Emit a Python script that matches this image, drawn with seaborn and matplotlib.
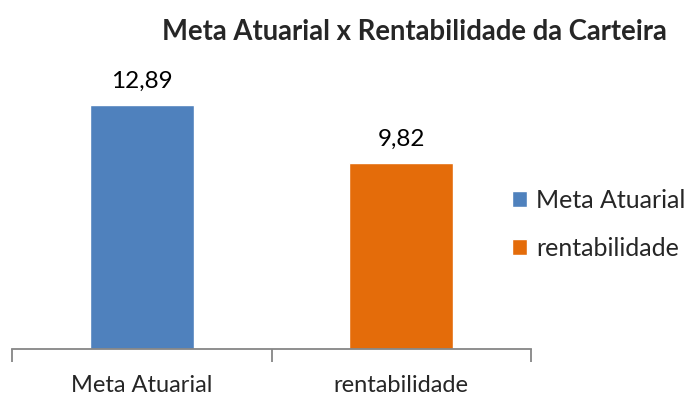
import matplotlib
matplotlib.use("Agg")
import matplotlib.pyplot as plt
import seaborn as sns
import pandas as pd

# =========================
# DATA
# =========================

categories = ["Meta Atuarial", "rentabilidade"]
values = [12.89, 9.82]
value_labels = ["12,89", "9,82"]
colors = ["#4F81BD", "#E46C0A"]

df = pd.DataFrame({"categoria": categories, "valor": values})

# =========================
# PLOT
# =========================

sns.set_style("white")
plt.rcParams["font.family"] = ["Lato", "DejaVu Sans"]

fig = plt.figure(figsize=(6.85, 4.01), dpi=100)
ax = fig.add_axes([12 / 685, 52 / 401, 519 / 685, 265 / 401])

sns.barplot(data=df, x="categoria", y="valor", hue="categoria",
            palette=colors, width=0.4, saturation=1, legend=True, ax=ax)

ax.set_xlim(-0.5, 1.5)
ax.set_ylim(0, 14)

# value labels
for i, (v, lab) in enumerate(zip(values, value_labels)):
    ax.text(i, v + 0.7, lab, ha="center", va="bottom", fontsize=17.5, color="#000000")

# axes styling
for s in ["top", "right", "left"]:
    ax.spines[s].set_visible(False)
ax.spines["bottom"].set_color("#868686")
ax.spines["bottom"].set_linewidth(1.3)
ax.set_yticks([])
ax.set_xlabel("")
ax.set_ylabel("")

ax.set_xticks([0, 1])
ax.set_xticklabels(categories, fontsize=17)
ax.tick_params(axis="x", which="major", bottom=True, length=0, pad=19)
ax.set_xticks([-0.5, 0.5, 1.5], minor=True)
ax.tick_params(axis="x", which="minor", bottom=True, length=9, width=1.3,
               color="#868686", direction="out")

# legend
handles, labels = ax.get_legend_handles_labels()
ax.legend(handles, labels, loc="center left", bbox_to_anchor=(477 / 519, 0.47),
          frameon=False, fontsize=18, handlelength=0.6, handleheight=0.6,
          handletextpad=0.4, labelspacing=1.0)

fig.text(414 / 685, 1 - 32 / 401, "Meta Atuarial x Rentabilidade da Carteira",
         ha="center", va="center", fontsize=19.8, fontweight="bold")

fig.savefig("out.png", dpi=100)
